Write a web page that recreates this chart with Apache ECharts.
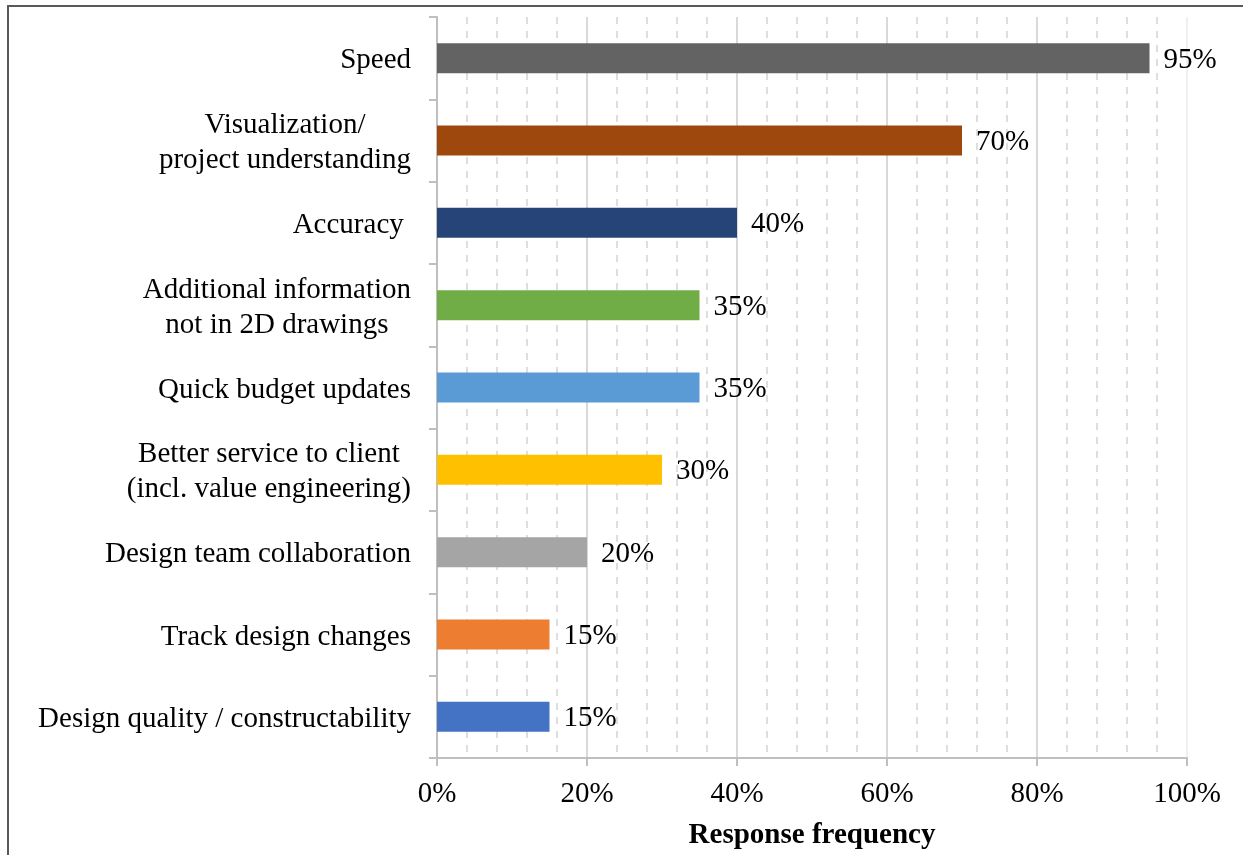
<!DOCTYPE html>
<html>
<head>
<meta charset="utf-8">
<script src="https://cdn.jsdelivr.net/npm/echarts@6/dist/echarts.min.js"></script>
<style>
  html, body { margin: 0; padding: 0; background: #fff; }
  #chart { width: 1243px; height: 855px; }
</style>
</head>
<body>
<div id="chart"></div>
<script>
// Benefits of the approach, listed top to bottom
const categories = [
  'Speed',
  'Visualization/\nproject understanding',
  'Accuracy ',
  'Additional information\nnot in 2D drawings',
  'Quick budget updates',
  'Better service to client\n(incl. value engineering)',
  'Design team collaboration',
  'Track design changes',
  'Design quality / constructability'
];
// Share of respondents (%)
const values = [95, 70, 40, 35, 35, 30, 20, 15, 15];
const barColors = ['#636363', '#9e480e', '#264478', '#70ad47', '#5b9bd5', '#ffc000', '#a5a5a5', '#ed7d31', '#4472c4'];
const xTicks = [0, 20, 40, 60, 80, 100];

const FONT = '"Liberation Serif", "Times New Roman", serif';
const FS = 29;
const chart = echarts.init(document.getElementById('chart'), null, { renderer: 'canvas' });

chart.setOption({
  animation: false,
  backgroundColor: '#ffffff',
  graphic: [{
    type: 'rect',
    shape: { x: 8, y: 6, width: 1300, height: 900 },
    style: { fill: 'none', stroke: '#595959', lineWidth: 2 },
    z: 100
  }],
  grid: { left: 437, right: 56, top: 17, bottom: 97, containLabel: false, outerBoundsMode: 'none' },
  xAxis: {
    type: 'value',
    min: xTicks[0],
    max: xTicks[xTicks.length - 1],
    interval: 20,
    name: 'Response frequency',
    nameLocation: 'middle',
    nameGap: 63,
    nameMoveOverlap: false,
    nameTextStyle: { fontFamily: FONT, fontSize: FS, fontWeight: 'bold', color: '#000' },
    axisLine: { show: true, lineStyle: { color: '#bfbfbf', width: 2 } },
    axisTick: { show: true, length: 8, lineStyle: { color: '#bfbfbf', width: 2 } },
    axisLabel: {
      margin: 22,
      fontFamily: FONT, fontSize: FS, color: '#000',
      formatter: v => v + '%'
    },
    splitLine: {
      show: true,
      lineStyle: { color: ['#d9d9d9', '#d9d9d9', '#d9d9d9', '#d9d9d9', '#d9d9d9', '#f0f0f0'], width: 2 }
    },
    minorTick: { show: false, splitNumber: 5 },
    minorSplitLine: {
      show: true,
      lineStyle: { color: '#dedede', width: 2, type: [7, 7] }
    }
  },
  yAxis: {
    type: 'category',
    inverse: true,
    data: categories,
    axisLine: { show: true, lineStyle: { color: '#bfbfbf', width: 2 } },
    axisTick: { show: true, length: 8, alignWithLabel: false, lineStyle: { color: '#bfbfbf', width: 2 } },
    axisLabel: {
      margin: 26,
      fontFamily: FONT, fontSize: FS, color: '#000',
      lineHeight: 35,
      padding: [5, 0, 0, 0],
      formatter: v => '{c|' + v + '}',
      rich: {
        c: { fontFamily: FONT, fontSize: FS, color: '#000', lineHeight: 35, align: 'center' }
      }
    },
    splitLine: { show: false }
  },
  series: [{
    type: 'bar',
    data: values.map((v, i) => ({ value: v, itemStyle: { color: barColors[i] } })),
    barWidth: 30,
    label: {
      show: true,
      position: 'right',
      distance: 14,
      offset: [0, 2],
      fontFamily: FONT, fontSize: FS, color: '#000',
      formatter: p => p.value + '%'
    }
  }]
});
</script>
</body>
</html>
